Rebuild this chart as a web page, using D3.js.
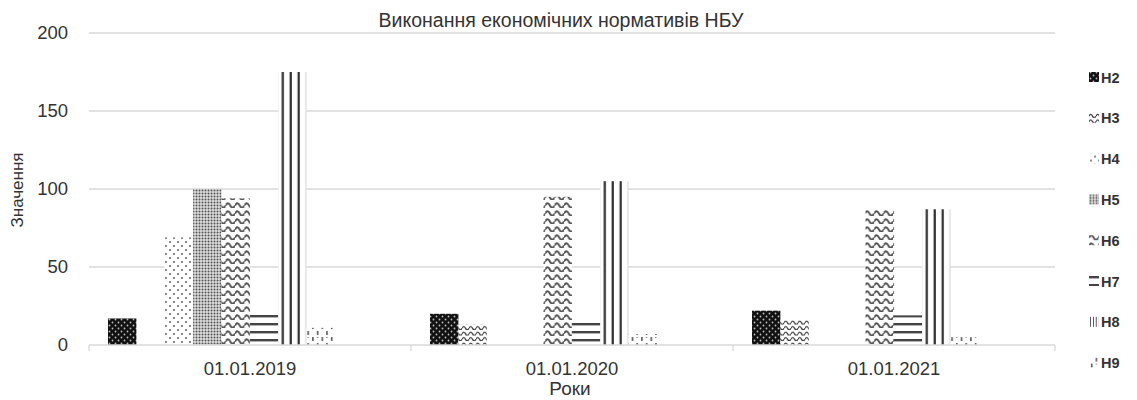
<!DOCTYPE html>
<html><head><meta charset="utf-8">
<script src="https://cdn.jsdelivr.net/npm/d3@7"></script>
<style>body{margin:0;background:#fff}svg{display:block}text{font-family:"Liberation Sans",Arial,sans-serif;fill:#333}</style>
</head><body><svg id="c" width="1137" height="400"></svg>
<script>
const categories = ["01.01.2019","01.01.2020","01.01.2021"];
const seriesNames = ["Н2","Н3","Н4","Н5","Н6","Н7","Н8","Н9"];
const H2 = [17, 20, 22];
const H3 = [null, 13, 16];
const H4 = [69, null, null];
const H5 = [100, null, null];
const H6 = [94, 95, 87];
const H7 = [20, 16, 19];
const H8 = [175, 105, 87];
const H9 = [11, 7, 5];
const yTicks = [0, 50, 100, 150, 200];
const seriesValues = [H2,H3,H4,H5,H6,H7,H8,H9];

(function(){
const svg = d3.select("#c");
const defs = svg.append("defs");
function pat(id, w, h, build, units){
  const p = defs.append("pattern").attr("id", id).attr("patternUnits", units||"userSpaceOnUse")
    .attr("width", w).attr("height", h);
  build(p); return p;
}
pat("p0", 6, 6, p => {
  p.append("rect").attr("width",6).attr("height",6).attr("fill","#111");
  p.append("circle").attr("cx",1.5).attr("cy",1.5).attr("r",0.9).attr("fill","#bbb");
  p.append("circle").attr("cx",4.5).attr("cy",4.5).attr("r",0.9).attr("fill","#bbb");
});
pat("p1", 7, 5.5, p => {
  p.append("rect").attr("width",7).attr("height",5.5).attr("fill","#fff");
  p.append("path").attr("d","M0 3.8 Q1.75 0.6 3.5 3.8 T7 3.8").attr("fill","none").attr("stroke","#333").attr("stroke-width",1.2);
});
pat("p2", 8, 8, p => {
  p.append("rect").attr("width",8).attr("height",8).attr("fill","#fff");
  p.append("circle").attr("cx",2).attr("cy",2).attr("r",1).attr("fill","#666");
  p.append("circle").attr("cx",6).attr("cy",6).attr("r",1).attr("fill","#666");
});
pat("p3", 3, 3, p => {
  p.append("rect").attr("width",3).attr("height",3).attr("fill","#ddd");
  p.append("circle").attr("cx",1.5).attr("cy",1.5).attr("r",1).attr("fill","#555");
});
pat("p4", 9.4, 8, p => {
  p.append("rect").attr("width",9.4).attr("height",8).attr("fill","#fff");
  p.append("path").attr("d","M0 5.5 Q2.35 1 4.7 5.5 T9.4 5.5").attr("fill","none").attr("stroke","#555").attr("stroke-width",1.9);
});
pat("p5", 8, 8, p => {
  p.append("rect").attr("width",8).attr("height",8).attr("fill","#fff");
  p.append("rect").attr("y",3).attr("width",8).attr("height",2.4).attr("fill","#444");
});
pat("p6", 1, 1, p => {
  p.attr("patternContentUnits","objectBoundingBox");
  p.append("rect").attr("width",1).attr("height",1).attr("fill","#fff");
  [0.12,0.40,0.68].forEach(x => p.append("rect").attr("x",x).attr("width",0.08).attr("height",1).attr("fill","#333"));
  p.append("rect").attr("x",0.96).attr("width",0.04).attr("height",1).attr("fill","#ccc");
}, "objectBoundingBox");
pat("p7", 9.4, 12, p => {
  p.append("rect").attr("width",9.4).attr("height",12).attr("fill","#fff");
  p.append("rect").attr("x",2).attr("y",1).attr("width",1.4).attr("height",4).attr("fill","#444");
  p.append("rect").attr("x",6.7).attr("y",7).attr("width",1.4).attr("height",4).attr("fill","#444");
  p.append("rect").attr("x",6.7).attr("y",1).attr("width",1.2).attr("height",1).attr("fill","#666");
});

const left = 89, right = 1055, plotTop = 33, bottom = 345;
const x0 = d3.scaleBand().domain(categories).range([left, right]).padding(0);
const step = x0.bandwidth();
const groupPad = step * 0.059;
const x1 = d3.scaleBand().domain(seriesNames).range([groupPad, groupPad + step*0.705]).padding(0);
const y = d3.scaleLinear().domain([0, 200]).range([bottom, plotTop]);

svg.append("g").selectAll("line").data(yTicks.filter(t => t > 0)).join("line")
  .attr("x1", left).attr("x2", right).attr("y1", d => y(d)).attr("y2", d => y(d))
  .attr("stroke", "#d9d9d9").attr("stroke-width", 1.3);

svg.append("g").selectAll("text").data(yTicks).join("text")
  .attr("x", 68).attr("y", d => y(d) + 6).attr("text-anchor", "end")
  .attr("font-size", 18.5).text(d => d);

const data = [];
categories.forEach((c, ci) => seriesNames.forEach((s, si) => {
  const v = seriesValues[si][ci];
  if (v != null) data.push({c, s, si, v});
}));
svg.append("g").selectAll("rect").data(data).join("rect")
  .attr("x", d => x0(d.c) + x1(d.s)).attr("width", x1.bandwidth())
  .attr("y", d => y(d.v)).attr("height", d => y(0) - y(d.v))
  .attr("fill", d => `url(#p${d.si})`);

svg.append("line").attr("x1", left).attr("x2", right).attr("y1", bottom).attr("y2", bottom)
  .attr("stroke", "#d9d9d9").attr("stroke-width", 1.3);
const bounds = categories.map(c => x0(c)).concat([right]);
svg.append("g").selectAll("line").data(bounds).join("line")
  .attr("x1", d => d).attr("x2", d => d).attr("y1", bottom).attr("y2", bottom + 6)
  .attr("stroke", "#d9d9d9").attr("stroke-width", 1.3);
svg.append("g").selectAll("text").data(categories).join("text")
  .attr("x", d => x0(d) + step/2).attr("y", 375).attr("text-anchor", "middle")
  .attr("font-size", 18.5).text(d => d);

svg.append("text").attr("x", 561).attr("y", 27).attr("text-anchor", "middle")
  .attr("font-size", 19.5).text("Виконання економічних нормативів НБУ");
svg.append("text").attr("x", 570).attr("y", 395).attr("text-anchor", "middle")
  .attr("font-size", 19).text("Роки");
svg.append("text").attr("transform", "translate(23,190) rotate(-90)").attr("text-anchor", "middle")
  .attr("font-size", 17).text("Значення");

const lg = svg.append("g").selectAll("g").data(seriesNames).join("g")
  .attr("transform", (d, i) => `translate(1089, ${77 + i*40.8})`);
lg.append("rect").attr("x", 0).attr("y", -5).attr("width", 10).attr("height", 10)
  .attr("fill", (d, i) => `url(#p${i})`);
lg.append("text").attr("x", 12).attr("y", 5.5).attr("font-size", 14.5).attr("font-weight", "bold")
  .attr("fill", "#111").text(d => d);
})();
</script></body></html>
